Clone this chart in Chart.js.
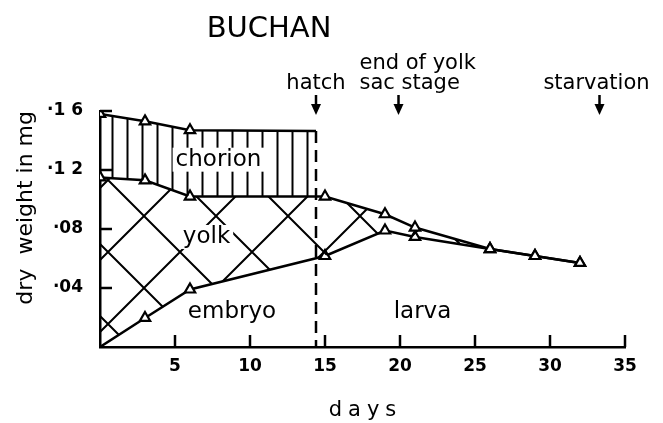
<!DOCTYPE html>
<html>
<head>
<meta charset="utf-8">
<script src="https://cdn.jsdelivr.net/npm/chart.js@4.4.1/dist/chart.umd.min.js"></script>
<style>
  html, body { margin: 0; padding: 0; background: #fff; }
  #wrap { width: 663px; height: 423px; }
</style>
</head>
<body>
<div id="wrap"><canvas id="buchan-chart"></canvas></div>
<script>
// dry weight (mg)
const chorionDays = [0, 3, 6, 14.4];
const chorionWeight = [0.158, 0.153, 0.147, 0.1465];
const yolkDays = [0, 3, 6, 15, 19, 21, 26, 29, 32];
const yolkWeight = [0.115, 0.113, 0.102, 0.102, 0.090, 0.081, 0.0664, 0.0617, 0.057];
const embryoDays = [0, 3, 6, 15, 19, 21, 26, 29, 32];
const embryoWeight = [0, 0.0197, 0.039, 0.0617, 0.079, 0.0746, 0.0664, 0.0617, 0.057];
const hatchDay = 14.4;
const eventNames = ["hatch", "end of yolk sac stage", "starvation"];
const eventDays = [14.4, 19.9, 33.3];
const xTickLabels = ["", "5", "10", "15", "20", "25", "30", "35"];
const yTickLabels = ["", "·04", "·08", "·1 2", "·1 6"];

const FONT = "'DejaVu Sans', sans-serif";

function toPoints(xs, ys) {
  return xs.map((x, i) => ({ x: x, y: ys[i] }));
}

function makePattern(w, h, draw) {
  const c = document.createElement("canvas");
  c.width = w;
  c.height = h;
  const g = c.getContext("2d");
  g.strokeStyle = "#000";
  g.lineWidth = 2;
  draw(g);
  return document.createElement("canvas").getContext("2d").createPattern(c, "repeat");
}

const verticalHatch = makePattern(15, 10, (g) => {
  g.beginPath();
  g.moveTo(7.5, 0);
  g.lineTo(7.5, 10);
  g.stroke();
});

const crossHatch = makePattern(72, 72, (g) => {
  g.beginPath();
  g.moveTo(0, 0);
  g.lineTo(72, 72);
  g.moveTo(72, 0);
  g.lineTo(0, 72);
  g.stroke();
});

const regionLabels = [
  { text: "chorion", x: 7.9, y: 0.127 },
  { text: "yolk", x: 7.1, y: 0.0746 },
  { text: "embryo", x: 8.8, y: 0.0237 },
  { text: "larva", x: 21.5, y: 0.0237 },
];

const figureText = {
  id: "figureText",
  afterDatasetsDraw(chart) {
    const { ctx, scales } = chart;
    const xs = scales.x, ys = scales.y;
    ctx.save();
    ctx.textBaseline = "middle";
    ctx.textAlign = "center";
    ctx.font = "23px " + FONT;
    regionLabels.forEach((l) => {
      const px = xs.getPixelForValue(l.x), py = ys.getPixelForValue(l.y);
      const w = ctx.measureText(l.text).width;
      ctx.fillStyle = "#fff";
      ctx.fillRect(px - w / 2 - 3, py - 12, w + 6, 24);
      ctx.fillStyle = "#000";
      ctx.fillText(l.text, px, py);
    });
    ctx.restore();
  },
  afterDraw(chart) {
    const { ctx, scales, chartArea } = chart;
    const xs = scales.x, ys = scales.y;
    ctx.save();
    ctx.strokeStyle = "#000";
    ctx.fillStyle = "#000";
    ctx.lineWidth = 2.5;

    // inward tick marks
    xs.ticks.forEach((t) => {
      if (t.value <= 0) return;
      const px = xs.getPixelForValue(t.value);
      ctx.beginPath();
      ctx.moveTo(px, chartArea.bottom);
      ctx.lineTo(px, chartArea.bottom - 12);
      ctx.stroke();
    });
    ys.ticks.forEach((t) => {
      if (t.value <= 0) return;
      const py = ys.getPixelForValue(t.value);
      ctx.beginPath();
      ctx.moveTo(chartArea.left, py);
      ctx.lineTo(chartArea.left + 12, py);
      ctx.stroke();
    });

    // event arrows
    eventDays.forEach((d) => {
      const px = xs.getPixelForValue(d);
      ctx.beginPath();
      ctx.moveTo(px, 95);
      ctx.lineTo(px, 108);
      ctx.stroke();
      ctx.beginPath();
      ctx.moveTo(px - 5, 104);
      ctx.lineTo(px + 5, 104);
      ctx.lineTo(px, 115);
      ctx.closePath();
      ctx.fill();
    });

    ctx.font = "21px " + FONT;
    ctx.textBaseline = "alphabetic";
    ctx.textAlign = "center";
    ctx.fillText(eventNames[0], xs.getPixelForValue(eventDays[0]), 89);
    ctx.textAlign = "left";
    const yolkX = xs.getPixelForValue(eventDays[1]) - 39;
    const words = eventNames[1].split(" ");
    ctx.fillText(words.slice(0, 3).join(" "), yolkX, 69);
    ctx.fillText(words.slice(3).join(" "), yolkX, 89);
    ctx.textAlign = "center";
    ctx.fillText(eventNames[2], xs.getPixelForValue(eventDays[2]) - 3, 89);

    ctx.font = "29px " + FONT;
    ctx.fillText("BUCHAN", 269, 37);

    // x axis title, letter-spaced
    ctx.font = "21px " + FONT;
    ctx.letterSpacing = "6px";
    ctx.fillText("days", (chartArea.left + chartArea.right) / 2 + 3, 416);
    ctx.restore();
  },
};

const pointCommon = {
  pointStyle: "triangle",
  pointBackgroundColor: "#fff",
  pointBorderColor: "#000",
  pointBorderWidth: 2.2,
  borderColor: "#000",
  borderWidth: 2.5,
  tension: 0,
};

new Chart(document.getElementById("buchan-chart").getContext("2d"), {
  type: "line",
  plugins: [figureText],
  data: {
    datasets: [
      {
        ...pointCommon,
        label: "chorion",
        data: toPoints(chorionDays, chorionWeight),
        pointRadius: chorionDays.map((d, i) => (i === chorionDays.length - 1 ? 0 : 6)),
        fill: { target: 1 },
        backgroundColor: verticalHatch,
      },
      {
        ...pointCommon,
        label: "yolk",
        data: toPoints(yolkDays, yolkWeight),
        pointRadius: 6,
        fill: { target: 2 },
        backgroundColor: crossHatch,
      },
      {
        ...pointCommon,
        label: "embryo",
        data: toPoints(embryoDays, embryoWeight),
        pointRadius: embryoDays.map((d, i) => (i === 0 ? 0 : 6)),
        fill: false,
      },
      {
        label: "hatch",
        data: [
          { x: hatchDay, y: chorionWeight[chorionWeight.length - 1] },
          { x: hatchDay, y: 0 },
        ],
        borderColor: "#000",
        borderWidth: 2.5,
        borderDash: [12, 7],
        pointRadius: 0,
        fill: false,
      },
    ],
  },
  options: {
    responsive: true,
    maintainAspectRatio: false,
    animation: false,
    layout: { padding: { top: 111, right: 38, left: 13, bottom: 0 } },
    plugins: {
      legend: { display: false },
      tooltip: { enabled: false },
    },
    scales: {
      x: {
        type: "linear",
        min: 0,
        max: 35,
        afterFit: (scale) => { scale.height = 76; },
        grid: { display: false, drawTicks: false },
        border: { display: true, color: "#000", width: 2.5 },
        ticks: {
          stepSize: 5,
          padding: 9,
          color: "#000",
          font: { family: FONT, size: 17, weight: "bold" },
          maxRotation: 0,
          callback: (v, i) => xTickLabels[i],
        },
      },
      y: {
        min: 0,
        max: 0.16,
        afterFit: (scale) => { scale.width = 87; },
        grid: { display: false, drawTicks: false },
        border: { display: true, color: "#000", width: 2.5 },
        ticks: {
          stepSize: 0.04,
          padding: 17,
          color: "#000",
          font: { family: FONT, size: 17, weight: "bold" },
          callback: (v, i) => yTickLabels[i],
        },
        title: {
          display: true,
          text: "dry  weight in mg",
          align: "end",
          color: "#000",
          font: { family: FONT, size: 22 },
          padding: { top: 0, bottom: 4 },
        },
      },
    },
  },
});
</script>
</body>
</html>
